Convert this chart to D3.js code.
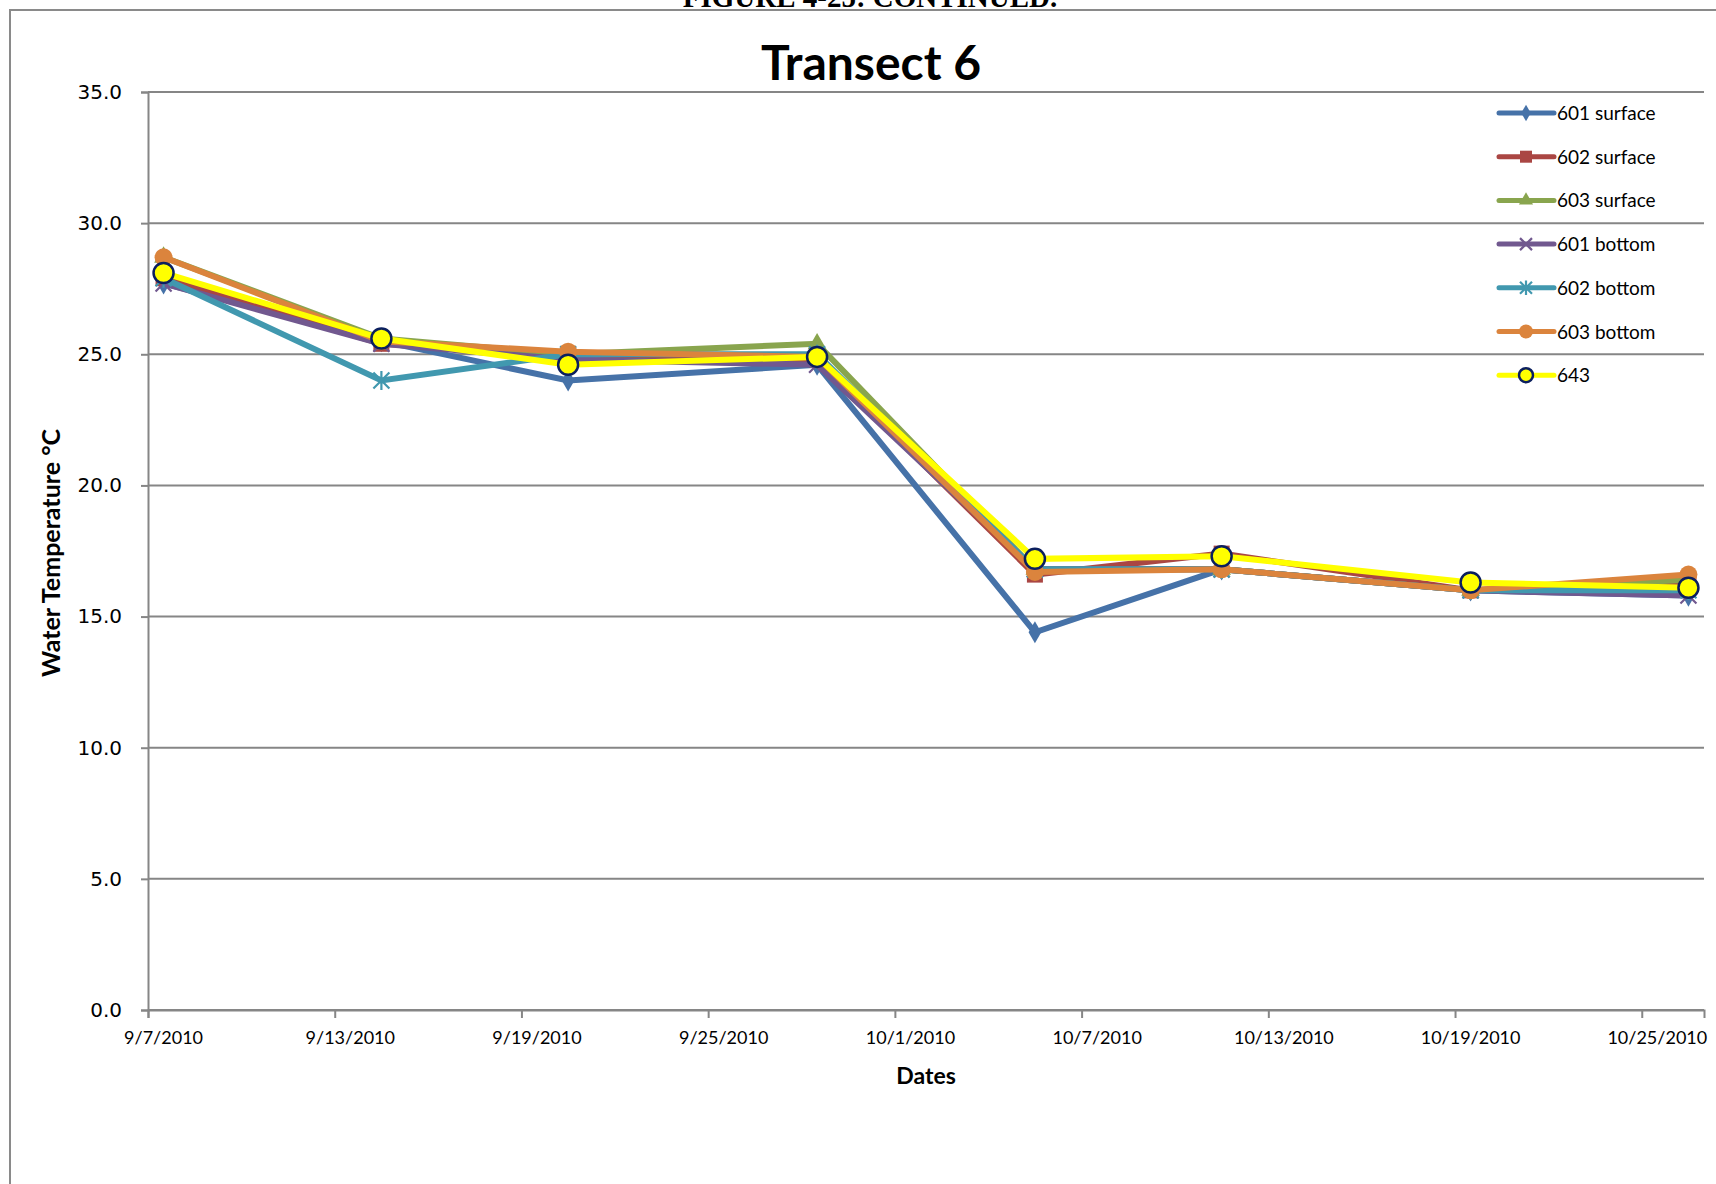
<!DOCTYPE html>
<html>
<head>
<meta charset="utf-8">
<script src="https://cdn.jsdelivr.net/npm/d3@7"></script>
<style>
  html, body { margin: 0; padding: 0; background: #fff; }
  svg { display: block; }
</style>
</head>
<body>
<svg id="chart" width="1716" height="1184"></svg>
<script>
// Sampling dates along Transect 6
const dates = ["2010-09-07", "2010-09-14", "2010-09-20", "2010-09-28",
               "2010-10-05", "2010-10-11", "2010-10-19", "2010-10-26"];

// Water temperature (°C) per station
const s601Surface = [27.7, 25.5, 24.0, 24.6, 14.4, 16.8, 16.0, 15.8];
const s602Surface = [27.9, 25.4, 25.0, 24.8, 16.6, 17.4, 16.0, 16.2];
const s603Surface = [28.7, 25.6, 25.0, 25.4, 16.8, 16.8, 16.0, 16.4];
const s601Bottom  = [27.7, 25.4, 24.8, 24.6, 16.8, 16.8, 16.0, 15.8];
const s602Bottom  = [27.9, 24.0, 25.0, 25.0, 16.8, 16.8, 16.0, 16.0];
const s603Bottom  = [28.7, 25.5, 25.1, 24.9, 16.7, 16.8, 16.0, 16.6];
const s643        = [28.1, 25.6, 24.6, 24.9, 17.2, 17.3, 16.3, 16.1];

const seriesNames = ["601 surface", "602 surface", "603 surface",
                     "601 bottom", "602 bottom", "603 bottom", "643"];

const yTicks = [0, 5, 10, 15, 20, 25, 30, 35];
const xTickDates = ["2010-09-07", "2010-09-13", "2010-09-19", "2010-09-25", "2010-10-01",
                    "2010-10-07", "2010-10-13", "2010-10-19", "2010-10-25"];
const xDomain = ["2010-09-07", "2010-10-27"];

const chartTitle = "Transect 6";
const pageHeading = "FIGURE 4-25: CONTINUED.";
const xTitle = "Dates";
const yTitle = "Water Temperature °C";

// ---- styling ----
const styles = [
  { color: "#4672A8", marker: "diamond" },
  { color: "#AA4643", marker: "square" },
  { color: "#89A54E", marker: "triangle" },
  { color: "#71588F", marker: "x" },
  { color: "#4198AF", marker: "star" },
  { color: "#DB843D", marker: "circle" },
  { color: "#FFFF00", marker: "ring" }
];
const allValues = [s601Surface, s602Surface, s603Surface, s601Bottom, s602Bottom, s603Bottom, s643];

const parse = d3.utcParse("%Y-%m-%d");
const fmt = d3.utcFormat("%-m/%-d/%Y");
const halfDay = 12 * 3600 * 1000;

const svg = d3.select("#chart");
const W = 1716, H = 1184;
const plot = { left: 148, right: 1704, top: 92, bottom: 1010 };

const x = d3.scaleUtc().domain(xDomain.map(parse)).range([plot.left, plot.right]);
const y = d3.scaleLinear().domain([0, 35]).range([plot.bottom, plot.top]);

// Outer chart frame
svg.append("rect")
  .attr("x", 10).attr("y", 10).attr("width", W + 20).attr("height", H + 20)
  .attr("fill", "none").attr("stroke", "#8a8a8a").attr("stroke-width", 2);

// Page heading, sitting above the frame at the top edge of the page
svg.append("text")
  .attr("x", 870).attr("y", 7)
  .attr("text-anchor", "middle")
  .attr("font-family", "'Liberation Serif', serif")
  .attr("font-weight", "bold")
  .attr("font-size", 29)
  .text(pageHeading);

// Title
svg.append("text")
  .attr("x", 871).attr("y", 80)
  .attr("text-anchor", "middle")
  .attr("font-family", "Lato, 'Open Sans', sans-serif")
  .attr("font-weight", "bold")
  .attr("font-size", 48)
  .text(chartTitle);

// Horizontal gridlines + y axis
const yAxis = d3.axisLeft(y).tickValues(yTicks).tickSize(7).tickFormat(d3.format(".1f"));
const gy = svg.append("g").attr("transform", `translate(${plot.left},0)`).call(yAxis);
gy.select(".domain").attr("stroke", "#868686").attr("stroke-width", 2);
gy.selectAll(".tick line").attr("stroke", "#868686").attr("stroke-width", 2);
gy.selectAll(".tick text")
  .attr("x", -26)
  .attr("font-family", "'DejaVu Sans', sans-serif")
  .attr("font-size", 20)
  .attr("fill", "#000");

svg.append("g").selectAll("line").data(yTicks).join("line")
  .attr("x1", plot.left).attr("x2", plot.right)
  .attr("y1", d => y(d)).attr("y2", d => y(d))
  .attr("stroke", "#868686").attr("stroke-width", 2);

// x axis
const xAxis = d3.axisBottom(x).tickValues(xTickDates.map(parse)).tickSize(8).tickFormat(() => "");
const gx = svg.append("g").attr("transform", `translate(0,${plot.bottom})`).call(xAxis);
gx.select(".domain").attr("stroke", "#868686").attr("stroke-width", 2);
gx.selectAll(".tick line").attr("stroke", "#868686").attr("stroke-width", 2);

svg.append("g").selectAll("text").data(xTickDates).join("text")
  .attr("x", d => x(new Date(+parse(d) + halfDay)))
  .attr("y", plot.bottom + 34)
  .attr("text-anchor", "middle")
  .attr("font-family", "Lato, 'Open Sans', sans-serif")
  .attr("font-size", 18)
  .text(d => fmt(parse(d)));

// Axis titles
svg.append("text")
  .attr("x", 926).attr("y", 1084)
  .attr("text-anchor", "middle")
  .attr("font-family", "Lato, 'Open Sans', sans-serif")
  .attr("font-weight", "bold")
  .attr("font-size", 23)
  .text(xTitle);

svg.append("text")
  .attr("transform", "translate(60,553) rotate(-90)")
  .attr("text-anchor", "middle")
  .attr("font-family", "Lato, 'Open Sans', sans-serif")
  .attr("font-weight", "bold")
  .attr("font-size", 25)
  .text(yTitle);

// Marker drawing
function drawMarker(g, type, color, size) {
  const s = size;
  if (type === "diamond") {
    g.append("path").attr("d", d3.symbol(d3.symbolDiamond, s * s * 0.55)()).attr("fill", color);
  } else if (type === "square") {
    g.append("rect").attr("x", -s / 2).attr("y", -s / 2).attr("width", s).attr("height", s).attr("fill", color);
  } else if (type === "triangle") {
    g.append("path").attr("d", d3.symbol(d3.symbolTriangle, s * s * 0.6)()).attr("fill", color);
  } else if (type === "x") {
    g.append("path").attr("d", `M${-s/2},${-s/2}L${s/2},${s/2}M${-s/2},${s/2}L${s/2},${-s/2}`)
      .attr("stroke", color).attr("stroke-width", 2.2).attr("fill", "none");
  } else if (type === "star") {
    g.append("path").attr("d",
      `M${-s/2},${-s/2}L${s/2},${s/2}M${-s/2},${s/2}L${s/2},${-s/2}M0,${-s/2*1.2}L0,${s/2*1.2}`)
      .attr("stroke", color).attr("stroke-width", 2.2).attr("fill", "none");
  } else if (type === "circle") {
    g.append("circle").attr("r", s / 2 + 1).attr("fill", color);
  } else if (type === "ring") {
    g.append("circle").attr("r", s / 2 + 1).attr("fill", color)
      .attr("stroke", "#0B1F5E").attr("stroke-width", 2.5);
  }
}

const line = d3.line()
  .x((d, i) => x(new Date(+parse(dates[i]) + halfDay)))
  .y(d => y(d));

allValues.forEach((vals, si) => {
  const st = styles[si];
  const g = svg.append("g").attr("class", "series");
  g.append("path").datum(vals)
    .attr("d", line)
    .attr("fill", "none")
    .attr("stroke", st.color)
    .attr("stroke-width", 6)
    .attr("stroke-linejoin", "miter");
  vals.forEach((v, i) => {
    const m = g.append("g")
      .attr("transform", `translate(${x(new Date(+parse(dates[i]) + halfDay))},${y(v)})`);
    drawMarker(m, st.marker, st.color, st.marker === "ring" ? 18 : 16);
  });
});

// Legend
const legend = svg.append("g");
seriesNames.forEach((name, i) => {
  const ly = 113 + i * 43.7;
  const st = styles[i];
  const g = legend.append("g").attr("transform", `translate(0,${ly})`);
  g.append("line").attr("x1", 1499).attr("x2", 1554).attr("y1", 0).attr("y2", 0)
    .attr("stroke", st.color).attr("stroke-width", 5).attr("stroke-linecap", "round");
  const m = g.append("g").attr("transform", "translate(1526,0)");
  drawMarker(m, st.marker, st.color, st.marker === "ring" ? 12 : 12);
  g.append("text").attr("x", 1557).attr("y", 7)
    .attr("font-family", "Lato, 'Open Sans', sans-serif")
    .attr("font-size", 19)
    .text(name);
});
</script>
</body>
</html>
